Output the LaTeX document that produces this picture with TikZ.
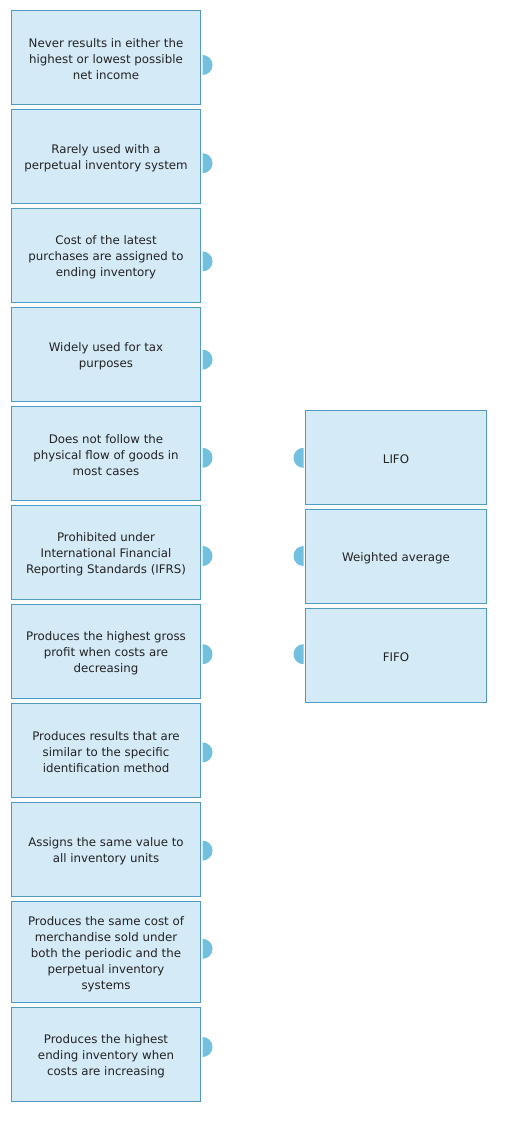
\documentclass[tikz,border=0pt]{standalone}
\usepackage{fontspec}
\setmainfont{DejaVu Sans}
\definecolor{boxfill}{HTML}{D4EAF7}
\definecolor{boxline}{HTML}{4E9CC6}
\definecolor{tabc}{HTML}{72C0E0}
\definecolor{txt}{HTML}{222222}
\tikzset{
  card/.style={draw=boxline, fill=boxfill, line width=1pt, inner sep=0pt},
  cardtext/.style={align=center, text=txt, inner sep=0pt, yshift=-2pt,
    font=\fontsize{11.8}{16}\selectfont},
  leftcard/.style={card, minimum width=189pt, minimum height=94pt},
  rightcard/.style={card, minimum width=181pt, minimum height=94pt},
  say/.style={label={[cardtext]center:{#1}}},
  tab/.style={fill=tabc, draw=none}
}
\begin{document}
\begin{tikzpicture}[x=1pt,y=-1pt]
\useasboundingbox (0,0) rectangle (506,1126);
% left cards
\node[leftcard, say={Never results in either the\\highest or lowest possible\\net income}] (a1) at (106,57.5) {};
\node[leftcard, say={Rarely used with a\\perpetual inventory system}] (a2) at (106,156.5) {};
\node[leftcard, say={Cost of the latest\\purchases are assigned to\\ending inventory}] (a3) at (106,255.5) {};
\node[leftcard, say={Widely used for tax\\purposes}] (a4) at (106,354.5) {};
\node[leftcard, say={Does not follow the\\physical flow of goods in\\most cases}] (a5) at (106,453.5) {};
\node[leftcard, say={Prohibited under\\International Financial\\Reporting Standards (IFRS)}] (a6) at (106,552.5) {};
\node[leftcard, say={Produces the highest gross\\profit when costs are\\decreasing}] (a7) at (106,651.5) {};
\node[leftcard, say={Produces results that are\\similar to the specific\\identification method}] (a8) at (106,750.5) {};
\node[leftcard, say={Assigns the same value to\\all inventory units}] (a9) at (106,849.5) {};
\node[leftcard, minimum height=101pt, say={Produces the same cost of\\merchandise sold under\\both the periodic and the\\perpetual inventory\\systems}] (a10) at (106,952) {};
\node[leftcard, say={Produces the highest\\ending inventory when\\costs are increasing}] (a11) at (106,1054.5) {};
% right cards
\node[rightcard, say={LIFO}] (b1) at (396,457.5) {};
\node[rightcard, say={Weighted average}] (b2) at (396,556.5) {};
\node[rightcard, say={FIFO}] (b3) at (396,655.5) {};
% left tabs
\foreach \i/\cy in {1/65,2/163.2,3/261.4,4/359.6,5/457.8,6/556,7/654.2,8/752.4,9/850.6,10/948.8,11/1047}{
  \coordinate (ta\i) at (202.5,\cy);
  \fill[tab] (ta\i) ++(0,10pt) arc[start angle=90, end angle=-90, radius=10pt] -- cycle;
}
% right tabs
\foreach \i/\cy in {1/457.8,2/556,3/654.2}{
  \coordinate (tb\i) at (303.5,\cy);
  \fill[tab] (tb\i) ++(0,10pt) arc[start angle=90, end angle=270, radius=10pt] -- cycle;
}
\end{tikzpicture}
\end{document}
